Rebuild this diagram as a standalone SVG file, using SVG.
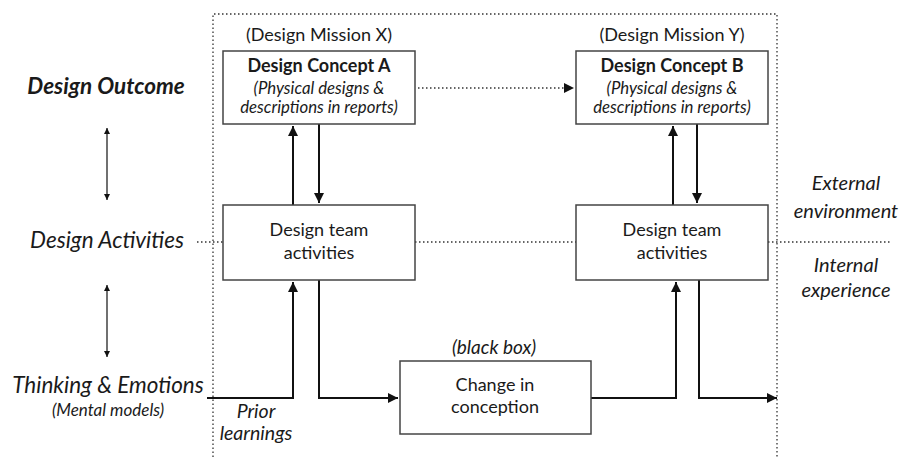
<svg xmlns="http://www.w3.org/2000/svg" width="904" height="457" viewBox="0 0 904 457">
<style>
text{font-family:Lato,"Open Sans","Liberation Sans",sans-serif;fill:#1a1a1a;text-anchor:middle}
.box{fill:#fff;stroke:#444;stroke-width:1.5}
.t18{font-size:18px}
.sub{font-size:16.8px;font-style:italic}
.it{font-style:italic}
.b{font-weight:bold}
.side{font-size:22.5px;font-style:italic}
.env{font-size:20px;font-style:italic}
.dot{fill:none;stroke:#333;stroke-width:1.3;stroke-dasharray:1.5 2.5}
.conn{fill:none;stroke:#111;stroke-width:2}
.thin{fill:none;stroke:#111;stroke-width:1.2}
</style>
<defs>
<marker id="ah" viewBox="0 0 10 10" refX="10" refY="5" markerWidth="10" markerHeight="10" markerUnits="userSpaceOnUse" orient="auto"><path d="M0,0 L10,5 L0,10 z" fill="#111"/></marker>
<marker id="as" viewBox="0 0 10 10" refX="10" refY="5" markerWidth="6" markerHeight="6" markerUnits="userSpaceOnUse" orient="auto-start-reverse"><path d="M0,0 L10,5 L0,10 z" fill="#111"/></marker>
</defs>
<rect width="904" height="457" fill="#fff"/>
<g id="frame">
<path class="dot" d="M213,457 V14 H777 V457"/>
<path class="dot" d="M197,242 H223 M415,242 H576 M768,242 H890"/>
</g>
<g id="connectors">
<path class="dot" d="M418,88 H574" marker-end="url(#ah)"/>
<path class="conn" d="M293,205 V126" marker-end="url(#ah)"/>
<path class="conn" d="M319,124 V203" marker-end="url(#ah)"/>
<path class="conn" d="M673,205 V126" marker-end="url(#ah)"/>
<path class="conn" d="M697,124 V203" marker-end="url(#ah)"/>
<path class="conn" d="M207,398 H293 V282" marker-end="url(#ah)"/>
<path class="conn" d="M319,280 V398 H398" marker-end="url(#ah)"/>
<path class="conn" d="M591,398 H676 V282" marker-end="url(#ah)"/>
<path class="conn" d="M699,280 V398 H777" marker-end="url(#ah)"/>
<path class="thin" d="M107,128 V200" marker-start="url(#as)" marker-end="url(#as)"/>
<path class="thin" d="M107,285 V357" marker-start="url(#as)" marker-end="url(#as)"/>
</g>
<g id="conceptA">
<text class="t18" x="319" y="41">(Design Mission X)</text>
<rect class="box" x="223" y="51" width="192" height="73"/>
<text class="t18 b" x="319" y="72">Design Concept A</text>
<text class="sub" x="319" y="94">(Physical designs &amp;</text>
<text class="sub" x="319" y="113">descriptions in reports)</text>
</g>
<g id="conceptB">
<text class="t18" x="672" y="41">(Design Mission Y)</text>
<rect class="box" x="576" y="51" width="192" height="73"/>
<text class="t18 b" x="672" y="72">Design Concept B</text>
<text class="sub" x="672" y="94">(Physical designs &amp;</text>
<text class="sub" x="672" y="113">descriptions in reports)</text>
</g>
<g id="activitiesA">
<rect class="box" x="223" y="205" width="192" height="75"/>
<text class="t18" x="319" y="236">Design team</text>
<text class="t18" x="319" y="259">activities</text>
</g>
<g id="activitiesB">
<rect class="box" x="576" y="205" width="192" height="75"/>
<text class="t18" x="672" y="236">Design team</text>
<text class="t18" x="672" y="259">activities</text>
</g>
<g id="change">
<text class="it" style="font-size:19px" x="494" y="354">(black box)</text>
<rect class="box" x="400" y="361" width="191" height="73"/>
<text class="t18" x="495" y="391">Change in</text>
<text class="t18" x="495" y="413">conception</text>
</g>
<g id="labels">
<text class="side b" x="106" y="94">Design Outcome</text>
<text class="side" x="107" y="248">Design Activities</text>
<text class="side" x="108" y="393">Thinking &amp; Emotions</text>
<text class="it" style="font-size:17px" x="108" y="416">(Mental models)</text>
<text class="it" style="font-size:19.5px" x="256" y="418">Prior</text>
<text class="it" style="font-size:19.5px" x="256" y="440">learnings</text>
<text class="env" x="846" y="190">External</text>
<text class="env" x="846" y="218">environment</text>
<text class="env" x="846" y="272">Internal</text>
<text class="env" x="846" y="297">experience</text>
</g>
</svg>
